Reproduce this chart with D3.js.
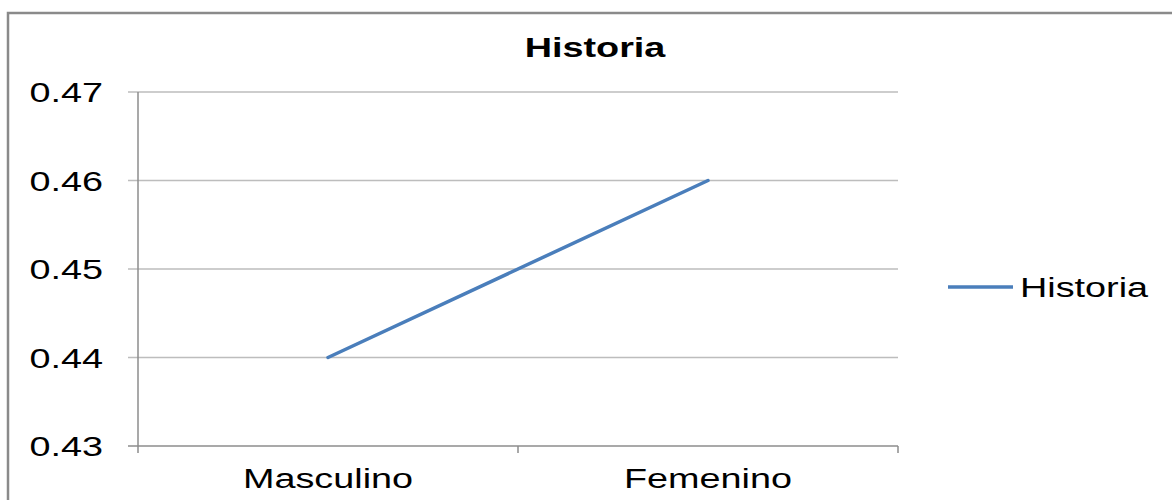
<!DOCTYPE html>
<html>
<head>
<meta charset="utf-8">
<script src="https://cdn.jsdelivr.net/npm/d3@7"></script>
<style>
  body { margin: 0; background: #fff; }
  text { font-family: "Liberation Sans", Arial, sans-serif; }
</style>
</head>
<body>
<div id="chart"></div>
<script>
// data
const categories = ["Masculino", "Femenino"];
const values = [0.44, 0.46];
const yTicks = [0.43, 0.44, 0.45, 0.46, 0.47];
const seriesName = "Historia";
const chartTitle = "Historia";

const width = 1172;
const height = 500;
const plot = {left: 138, right: 898, top: 92, bottom: 446};
const stretch = 1.35; // text in the reference is stretched horizontally
const lineColour = "#4a7ebb";
const gridColour = "#bdbdbd";
const axisColour = "#8c8c8c";

const svg = d3.select("#chart").append("svg")
  .attr("width", width)
  .attr("height", height);

// outer frame
svg.append("rect")
  .attr("x", 8).attr("y", 13)
  .attr("width", 1300).attr("height", 600)
  .attr("fill", "none")
  .attr("stroke", "#8a8a8a")
  .attr("stroke-width", 2.5);

const x = d3.scaleBand().domain(categories).range([plot.left, plot.right]);
const y = d3.scaleLinear().domain([0.43, 0.47]).range([plot.bottom, plot.top]);

// stretched text helper
const label = (g, px, py, txt, anchor, opts = {}) => g.append("g")
  .attr("transform", `translate(${px},${py}) scale(${stretch},1)`)
  .append("text")
    .attr("text-anchor", anchor)
    .attr("font-size", opts.size || 28)
    .attr("font-weight", opts.weight || "normal")
    .attr("fill", "#000")
    .text(txt);

// gridlines
svg.append("g").selectAll("line")
  .data(yTicks)
  .join("line")
    .attr("x1", plot.left - 10)
    .attr("x2", plot.right)
    .attr("y1", d => y(d))
    .attr("y2", d => y(d))
    .attr("stroke", d => d === 0.43 ? axisColour : gridColour)
    .attr("stroke-width", 1.5);

// y axis line
svg.append("line")
  .attr("x1", plot.left).attr("x2", plot.left)
  .attr("y1", plot.top).attr("y2", plot.bottom + 7)
  .attr("stroke", axisColour).attr("stroke-width", 1.5);

// x tick marks at band edges
const edges = categories.map(c => x(c) + x.bandwidth()).slice();
svg.append("g").selectAll("line")
  .data(edges)
  .join("line")
    .attr("x1", d => d).attr("x2", d => d)
    .attr("y1", plot.bottom).attr("y2", plot.bottom + 7)
    .attr("stroke", axisColour).attr("stroke-width", 1.5);

// y labels
const yLab = svg.append("g");
yTicks.forEach(t => label(yLab, 103, y(t) + 10, t.toFixed(2), "end"));

// x labels
const xLab = svg.append("g");
categories.forEach(c => label(xLab, x(c) + x.bandwidth() / 2, 488, c, "middle"));

// line
const line = d3.line()
  .x((d, i) => x(categories[i]) + x.bandwidth() / 2)
  .y(d => y(d));
svg.append("path")
  .datum(values)
  .attr("fill", "none")
  .attr("stroke", lineColour)
  .attr("stroke-width", 3.5)
  .attr("stroke-linecap", "round")
  .attr("d", line);

// title
label(svg, 595, 57, chartTitle, "middle", {weight: "bold"});

// legend
svg.append("line")
  .attr("x1", 948).attr("x2", 1013)
  .attr("y1", 287).attr("y2", 287)
  .attr("stroke", lineColour).attr("stroke-width", 3.5);
label(svg, 1020, 297, seriesName, "start");
</script>
</body>
</html>
